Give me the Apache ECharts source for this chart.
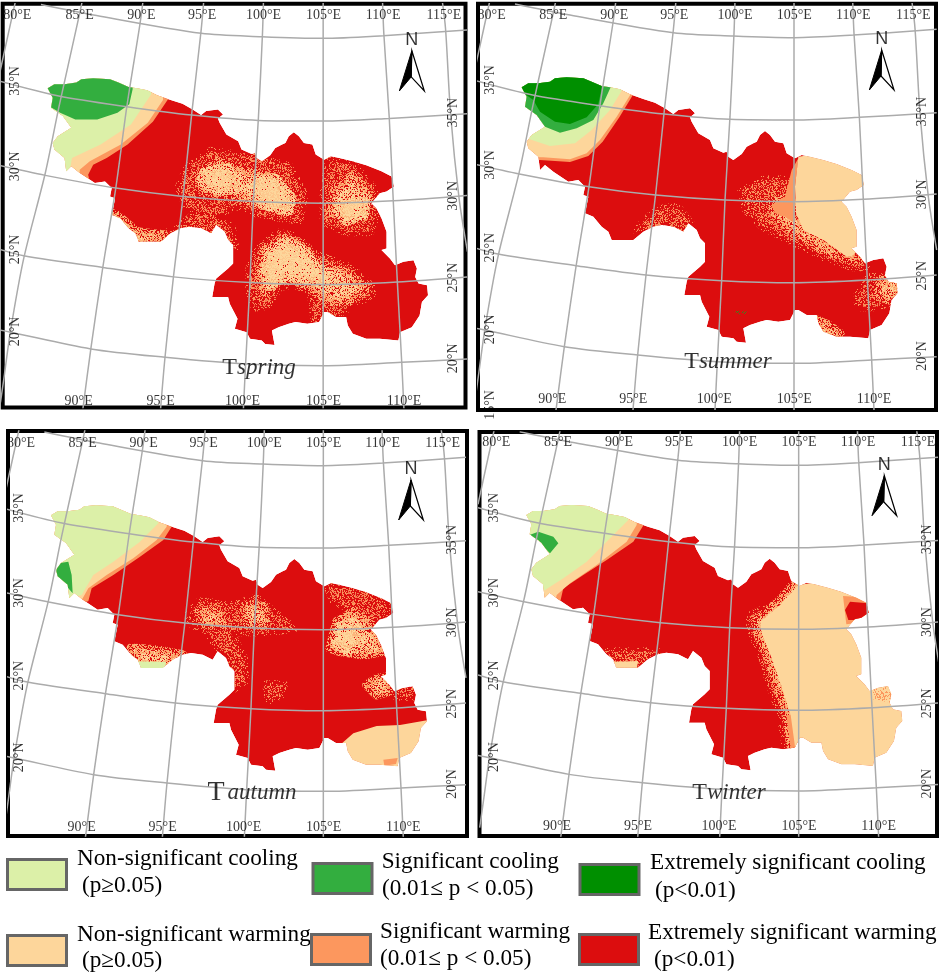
<!DOCTYPE html>
<html>
<head>
<meta charset="utf-8">
<title>Seasonal temperature trends</title>
<script src="https://cdn.jsdelivr.net/npm/echarts@6/dist/echarts.min.js"></script>
<style>
html, body { margin: 0; padding: 0; background: #fff; }
#main { width: 941px; height: 974px; }
</style>
</head>
<body>
<div id="main"></div>
<script>
// all map values are in one shared map unit
var seasons = ['spring', 'summer', 'autumn', 'winter'];

var basinOutline = [[155,262],[175,250],[205,250],[240,245],[255,235],[290,232],[340,235],[365,245],[395,258],[420,262],[450,268],[480,283],[520,297],[555,308],[585,325],[610,342],[625,330],[660,325],[675,340],[660,352],[665,365],[685,400],[720,420],[730,445],[760,458],[770,455],[775,470],[790,480],[815,462],[830,440],[850,430],[860,425],[870,405],[885,393],[900,405],[915,425],[940,430],[950,460],[975,475],[995,465],[1020,470],[1060,480],[1100,492],[1145,510],[1175,525],[1182,555],[1160,570],[1140,575],[1115,605],[1130,620],[1145,650],[1160,690],[1160,740],[1145,745],[1170,770],[1185,790],[1210,780],[1240,775],[1250,800],[1245,825],[1255,845],[1280,850],[1283,880],[1265,900],[1258,940],[1235,975],[1200,990],[1195,1015],[1140,1010],[1100,1010],[1060,995],[1045,970],[1040,945],[1010,945],[985,930],[975,930],[960,960],[925,965],[890,960],[870,965],[840,975],[820,985],[828,1028],[800,1025],[790,1015],[755,1010],[745,990],[710,980],[718,950],[695,905],[690,885],[643,885],[650,845],[655,830],[690,800],[705,785],[705,730],[690,715],[680,690],[655,670],[640,695],[610,680],[575,675],[550,680],[520,695],[490,720],[425,720],[415,695],[395,680],[370,650],[345,640],[355,590],[340,585],[345,560],[325,540],[295,545],[250,515],[225,495],[210,510],[205,470],[175,445],[170,425],[185,405],[225,380],[200,345],[165,320],[170,290]];

var springZones = [
  ['salmon', [[100,200],[512,200],[512,295],[467,362],[392,430],[330,470],[290,490],[275,520],[285,560],[100,560]]],
  ['pale', [[100,200],[497,200],[497,297],[452,365],[372,430],[280,480],[250,505],[250,560],[100,560]]],
  ['lightGreen', [[100,200],[462,200],[462,280],[402,370],[312,430],[227,470],[217,530],[100,560]]],
  ['green', [[100,200],[407,200],[407,265],[397,310],[362,335],[302,355],[237,355],[192,335],[167,320],[100,300]]],
  ['sparse', [[570,500],[640,450],[770,470],[870,495],[915,580],[900,655],[790,640],[710,610],[660,640],[570,620],[545,560]]],
  ['mid', [[600,520],[660,480],[740,510],[830,530],[880,590],[860,630],[790,610],[700,580],[620,570]]],
  ['dense', [[620,510],[690,500],[720,560],[660,570],[610,540]]],
  ['dense', [[750,540],[830,530],[880,590],[870,630],[790,610]]],
  ['sparse', [[530,690],[590,640],[650,640],[700,680],[710,740],[680,720],[640,700],[600,680],[550,690],[500,720],[430,735],[400,700],[480,700]]],
  ['mid', [[330,630],[360,640],[420,690],[500,700],[430,735]]],
  ['sparse', [[990,480],[1060,490],[1120,560],[1130,640],[1110,690],[1040,690],[975,660],[975,560]]],
  ['mid', [[1010,560],[1060,520],[1110,590],[1090,630],[1040,650],[990,630]]],
  ['dense', [[1030,590],[1100,590],[1095,640],[1040,660],[1015,630]]],
  ['sparse', [[755,800],[780,740],[840,695],[890,705],[948,760],[1007,780],[1056,800],[1115,855],[1120,875],[1056,910],[1007,940],[967,945],[948,955],[938,880],[918,860],[883,845],[840,855],[810,910],[770,915],[755,870]]],
  ['mid', [[780,810],[800,740],[860,710],[910,730],[960,785],[1040,810],[1100,860],[1050,895],[1000,900],[960,880],[940,860],[890,835],[850,835],[800,870]]],
  ['dense', [[795,810],[810,750],[858,720],[908,740],[958,800],[1007,820],[987,850],[908,830],[868,825],[810,850]]]
];

var summerZones = [
  ['salmon', [[100,200],[490,200],[490,283],[448,352],[398,425],[355,468],[300,486],[210,480],[100,480]]],
  ['pale', [[100,200],[482,200],[482,283],[440,350],[390,420],[350,460],[300,478],[220,472],[100,470]]],
  ['lightGreen', [[100,200],[455,200],[455,272],[420,330],[365,390],[315,430],[240,438],[170,415],[100,400]]],
  ['green', [[100,200],[422,200],[422,262],[400,310],[370,360],[320,385],[270,398],[225,380],[170,340],[100,320]]],
  ['darkGreen', [[100,200],[395,200],[395,265],[385,312],[350,352],[300,372],[255,365],[210,335],[190,300],[155,275],[100,260]]],
  ['sparse', [[815,575],[880,540],[950,540],[965,620],[1000,690],[1110,760],[1190,800],[1150,800],[1060,770],[960,720],[880,680],[830,630]]],
  ['mid', [[905,610],[960,590],[980,660],[1040,710],[1120,770],[1170,780],[1060,750],[970,690],[920,650]]],
  ['salmon', [[905,615],[945,590],[965,510],[985,475],[975,560],[975,670],[945,650],[915,640]]],
  ['pale', [[985,470],[1020,465],[1190,500],[1190,560],[1150,580],[1170,700],[1170,745],[1145,770],[1130,770],[1060,720],[1000,690],[978,640],[975,560]]],
  ['sparse', [[1200,830],[1250,830],[1283,850],[1283,885],[1260,905],[1220,920],[1165,920],[1165,880]]],
  ['mid', [[1235,840],[1283,850],[1283,885],[1255,900],[1225,880]]],
  ['mid', [[1040,960],[1075,975],[1110,1000],[1100,1015],[1060,1000]]],
  ['sparse', [[500,690],[560,630],[620,620],[660,670],[640,700],[575,680],[530,690]]],
  ['greenSpeck', [[785,930],[835,935],[815,948]]]
];

var autumnZones = [
  ['salmon', [[100,200],[520,200],[517,296],[492,336],[422,386],[342,441],[277,481],[267,520],[100,560]]],
  ['pale', [[100,200],[502,200],[502,296],[472,336],[402,391],[322,441],[267,481],[245,520],[100,560]]],
  ['lightGreen', [[100,200],[477,200],[477,286],[422,341],[342,401],[282,441],[247,501],[100,540]]],
  ['green', [[167,441],[177,406],[207,401],[217,441],[220,496],[207,481],[187,461]]],
  ['mid', [[395,660],[470,665],[550,680],[495,715],[420,710]]],
  ['lightGreen', [[400,700],[500,702],[495,735],[405,735]]],
  ['sparse', [[567,561],[602,521],[702,531],[772,511],[832,561],[882,601],[802,611],[702,611],[642,611],[582,591]]],
  ['mid', [[600,550],[650,550],[670,590],[620,590]]],
  ['mid', [[740,530],[790,535],[800,585],[745,585]]],
  ['sparse', [[622,601],[692,611],[732,691],[737,761],[702,781],[692,691],[642,641]]],
  ['sparse', [[802,770],[852,770],[845,800],[810,815]]],
  ['sparse', [[987,476],[1052,481],[1112,501],[1177,541],[1152,566],[1117,591],[1072,551],[1002,516]]],
  ['mid', [[1012,581],[1062,551],[1117,591],[1152,671],[1092,681],[1022,671],[992,661]]],
  ['dense', [[1007,641],[1022,591],[1062,591],[1082,641],[1042,671]]],
  ['mid', [[1132,751],[1167,746],[1167,791],[1132,801],[1102,771]]],
  ['sparse', [[1192,781],[1247,781],[1240,805],[1192,805]]],
  ['pale', [[1022,951],[1062,916],[1132,894],[1202,891],[1287,876],[1287,1031],[1022,1031]]],
  ['salmon', [[1152,995],[1195,990],[1190,1008],[1155,1013]]]
];

var winterZones = [
  ['salmon', [[100,200],[510,200],[505,295],[476,342],[396,397],[326,442],[266,482],[256,525],[100,560]]],
  ['pale', [[100,200],[490,200],[486,292],[456,342],[366,412],[286,467],[246,502],[240,530],[100,560]]],
  ['lightGreen', [[100,200],[461,200],[461,277],[406,332],[336,402],[266,452],[211,487],[100,540]]],
  ['green', [[164,322],[191,312],[236,327],[251,347],[226,377],[211,362],[191,337],[166,327]]],
  ['sparse', [[401,672],[456,672],[546,672],[486,722],[411,727]]],
  ['pale', [[416,702],[490,700],[486,727],[411,727]]],
  ['sparse', [[960,465],[900,530],[825,565],[830,610],[865,690],[885,765],[920,862],[935,960],[970,960],[970,470]]],
  ['mid', [[965,468],[905,528],[846,580],[850,617],[882,692],[907,762],[939,862],[952,962],[972,957],[972,470]]],
  ['salmon', [[935,862],[948,962],[975,957],[975,862]]],
  ['pale', [[971,472],[1036,462],[1286,462],[1296,1032],[961,1032],[961,957],[948,862],[916,762],[891,692],[861,617],[856,582],[916,532]]],
  ['salmon', [[1105,505],[1190,510],[1200,580],[1115,590]]],
  ['red', [[1126,522],[1181,527],[1186,562],[1156,577],[1121,577],[1111,547]]],
  ['salmonSpeck', [[1195,785],[1250,775],[1250,825],[1195,815]]]
];

var meridians = [
  [[60,0],[25,160],[10,230]],
  [[258,0],[243,70],[188,320],[148,515],[84,770],[45,985],[27,1115],[15,1200]],
  [[438,0],[428,75],[390,315],[357,560],[318,800],[283,1040],[258,1230]],
  [[618,0],[610,90],[582,340],[557,582],[528,825],[503,1065],[489,1230]],
  [[795,0],[792,100],[780,350],[765,600],[755,840],[742,1085],[735,1230]],
  [[972,0],[972,360],[972,605],[972,848],[972,1230]],
  [[1148,0],[1152,100],[1168,350],[1180,600],[1192,840],[1205,1080],[1212,1230]],
  [[1325,0],[1335,85],[1350,340],[1375,590],[1400,750]]
];
var parallels = [
  [[135,12],[300,45],[610,98],[790,108],[972,113],[1150,105],[1400,88]],
  [[10,240],[188,285],[390,317],[582,342],[780,358],[972,360],[1168,352],[1400,338]],
  [[10,492],[148,522],[357,560],[557,585],[765,600],[972,605],[1180,598],[1400,582]],
  [[10,742],[84,762],[318,797],[528,825],[755,842],[972,848],[1192,840],[1400,825]],
  [[10,983],[45,990],[283,1040],[503,1065],[742,1085],[972,1090],[1205,1080],[1400,1070]]
];

var topLonLabels = [['80°E',65],['85°E',250],['90°E',433],['95°E',613],['100°E',795],['105°E',973],['110°E',1150],['115°E',1330]];
var bottomLonLabels = [['90°E',247],['95°E',490],['100°E',733],['105°E',973],['110°E',1212]];
var leftLatLabels = [['35°N',240],['30°N',495],['25°N',743],['20°N',988]];
var rightLatLabels = [['35°N',335],['30°N',583],['25°N',827],['20°N',1068]];
var arrowLeft = [[1235,150],[1198,270],[1233,228]];
var arrowRight = [[1235,150],[1272,270],[1233,228]];

var legendRows = [
  ['Non-significant cooling', '(p≥0.05)', 'lightGreen'],
  ['Significant cooling', '(0.01≤ p < 0.05)', 'green'],
  ['Extremely significant cooling', '(p<0.01)', 'darkGreen'],
  ['Non-significant warming', '(p≥0.05)', 'pale'],
  ['Significant warming', '(0.01≤ p < 0.05)', 'salmon'],
  ['Extremely significant warming', '(p<0.01)', 'red']
];

var colors = {
  lightGreen: '#DCF0A8', green: '#33AE3F', darkGreen: '#008F00',
  pale: '#FDD69B', salmon: '#FC975E', red: '#DC0D0E'
};

// fixed speckle tiles for the mottled transitions (a hash, so it is the same each run)
function hash(x, y) {
  var s = Math.sin(x * 127.1 + y * 311.7) * 43758.5453;
  return s - Math.floor(s);
}
function speckle(density, c1, c2) {
  var size = 127;
  var cv = document.createElement('canvas');
  cv.width = size; cv.height = size;
  var ctx = cv.getContext('2d');
  for (var y = 0; y < size; y++) {
    for (var x = 0; x < size; x++) {
      if (hash(x, y) < density) {
        ctx.fillStyle = hash(y + 7, x + 3) < 0.5 ? c1 : c2;
        ctx.fillRect(x, y, 1, 1);
      }
    }
  }
  return { image: cv, repeat: 'repeat' };
}
var fills = {
  lightGreen: colors.lightGreen, green: colors.green, darkGreen: colors.darkGreen,
  pale: colors.pale, salmon: colors.salmon, red: colors.red,
  sparse: speckle(0.42, '#F27A50', colors.salmon),
  mid: speckle(0.78, colors.pale, '#FBB57C'),
  dense: speckle(0.96, colors.pale, '#FDC88E'),
  salmonSpeck: speckle(0.6, colors.salmon, colors.pale),
  greenSpeck: speckle(0.25, '#2E8B1E', '#2E8B1E')
};
// each mottled class fades out over a wider speckled stroke
var edges = {
  sparse: speckle(0.16, '#F27A50', colors.salmon),
  mid: speckle(0.55, colors.salmon, '#FBB57C'),
  dense: speckle(0.82, colors.pale, '#FBB57C')
};

var panels = [
  { frame: [2.7, 3.8, 465.5, 407.5], ox: -4.6, sx: 0.3372, oy: 0.5, sy: 0.335, arrow: [0, 0], title: [782, 1097], zones: springZones },
  { frame: [478, 3.8, 936, 410], ox: 470, sx: 1 / 3, oy: 0, sy: 1 / 3, arrow: [0, 0], title: [774, 1086], zones: summerZones },
  { frame: [8, 431, 467, 836], ox: -0.67, sx: 1 / 3, oy: 428, sy: 1 / 3, arrow: [0, 6], title: [758, 1095], zones: autumnZones },
  { frame: [479.5, 432, 937, 836], ox: 474.67, sx: 1 / 3, oy: 427.7, sy: 1 / 3, arrow: [-6, -6], title: [763, 1096], zones: winterZones }
];

var serif = '"Liberation Serif", "Times New Roman", serif';
var grids = [], xAxes = [], yAxes = [], series = [];

function textSeries(i, items, size, rotate) {
  return {
    type: 'scatter', xAxisIndex: i, yAxisIndex: i, silent: true, symbolSize: 1, clip: false, z: 6,
    itemStyle: { color: 'transparent' },
    data: items,
    label: {
      show: true, position: 'inside', rotate: rotate, fontFamily: serif, fontSize: size, color: '#000',
      formatter: function (p) { return p.name; }
    }
  };
}

panels.forEach(function (p, i) {
  var f = p.frame;
  grids.push({
    show: true, left: f[0], top: f[1], width: f[2] - f[0], height: f[3] - f[1],
    borderColor: '#000', borderWidth: 4, backgroundColor: '#fff'
  });
  xAxes.push({ type: 'value', gridIndex: i, show: false, min: (f[0] - p.ox) / p.sx, max: (f[2] - p.ox) / p.sx });
  yAxes.push({ type: 'value', gridIndex: i, show: false, inverse: true, min: (f[1] - p.oy) / p.sy, max: (f[3] - p.oy) / p.sy });

  // base region, then the zones cut to the region outline
  var layers = [['red', basinOutline]].concat(p.zones);
  series.push({
    type: 'custom', xAxisIndex: i, yAxisIndex: i, silent: true, z: 2,
    coordinateSystem: 'cartesian2d',
    data: layers.map(function (l, k) { return [k, l[1][0][0], l[1][0][1]]; }),
    encode: { x: 1, y: 2 },
    renderItem: function (params, api) {
      var l = layers[api.value(0)];
      var toPx = function (pt) { return api.coord(pt); };
      var style = { fill: fills[l[0]] };
      if (edges[l[0]]) {
        style.stroke = edges[l[0]];
        style.lineWidth = 9;
        style.lineJoin = 'round';
      }
      return {
        type: 'polygon',
        shape: { points: l[1].map(toPx) },
        style: style,
        clipPath: { type: 'polygon', shape: { points: basinOutline.map(toPx) } }
      };
    }
  });

  meridians.concat(parallels).forEach(function (line) {
    series.push({
      type: 'line', xAxisIndex: i, yAxisIndex: i, silent: true, smooth: 0.3, symbol: 'none', z: 3,
      lineStyle: { color: '#ABABAB', width: 1.5 }, data: line
    });
  });

  // north arrow
  var shift = function (pt) { return [pt[0] + p.arrow[0], pt[1] + p.arrow[1]]; };
  series.push({
    type: 'custom', xAxisIndex: i, yAxisIndex: i, silent: true, z: 5,
    coordinateSystem: 'cartesian2d', data: [[1235, 150]], encode: { x: 0, y: 1 },
    renderItem: function (params, api) {
      var toPx = function (pt) { return api.coord(shift(pt)); };
      return {
        type: 'group', children: [
          { type: 'polygon', shape: { points: arrowRight.map(toPx) }, style: { fill: '#fff', stroke: '#000', lineWidth: 1.2 } },
          { type: 'polygon', shape: { points: arrowLeft.map(toPx) }, style: { fill: '#000', stroke: '#000', lineWidth: 1 } }
        ]
      };
    }
  });
  var northSeries = textSeries(i, [{ name: 'N', value: shift([1235, 117]) }], 18, 0);
  northSeries.label.fontFamily = '"Liberation Sans", Arial, sans-serif';
  series.push(northSeries);

  // tick labels
  series.push(textSeries(i, topLonLabels.map(function (d) { return { name: d[0], value: [d[1], 45] }; }), 14, 0));
  series.push(textSeries(i, bottomLonLabels.map(function (d) { return { name: d[0], value: [d[1], 1197] }; }), 14, 0));
  var left = leftLatLabels.map(function (d) { return { name: d[0], value: [60, d[1]] }; });
  if (i === 1) left.push({ name: '15°N', value: [60, 1215] });
  series.push(textSeries(i, left, 14, 90));
  series.push(textSeries(i, rightLatLabels.map(function (d) { return { name: d[0], value: [1358, d[1]] }; }), 14, 90));

  // season title, roman T with italic season name
  var titleSeries = textSeries(i, [{ name: seasons[i], value: p.title }], 23, 0);
  titleSeries.label.formatter = function (d) { return (d.name === 'autumn' ? '{b|T}' : '{t|T}') + '{s|' + d.name + '}'; };
  titleSeries.label.rich = {
    t: { fontFamily: serif, fontSize: 24, color: '#000' },
    b: { fontFamily: serif, fontSize: 28, color: '#000', padding: [0, 3, 0, 0] },
    s: { fontFamily: serif, fontSize: 23, fontStyle: 'italic', color: '#000' }
  };
  series.push(titleSeries);
});

// legend boxes and text
var swatchRects = [[6, 858], [311.5, 862], [578.5, 863], [6, 934], [310, 933], [578, 933]];
var line1Pos = [[77, 858], [381.7, 861], [650, 862], [77, 934], [380, 931], [648, 932]];
var line2Pos = [[82, 885], [382, 888], [655, 890], [82, 960], [380, 958], [654, 959]];
var graphics = [];
legendRows.forEach(function (r, i) {
  graphics.push({
    type: 'rect', left: swatchRects[i][0], top: swatchRects[i][1], silent: true,
    shape: { width: 59, height: 30 },
    style: { fill: colors[r[2]], stroke: '#666', lineWidth: 3 }
  });
  [line1Pos, line2Pos].forEach(function (pos, k) {
    graphics.push({
      type: 'text', left: pos[i][0], top: pos[i][1] - 11, silent: true,
      style: { text: r[k], fontFamily: serif, fontSize: 23.2, fill: '#000' }
    });
  });
});

var chart = echarts.init(document.getElementById('main'));
chart.setOption({
  animation: false,
  backgroundColor: '#fff',
  grid: grids,
  xAxis: xAxes,
  yAxis: yAxes,
  series: series,
  graphic: graphics
});
</script>
</body>
</html>
